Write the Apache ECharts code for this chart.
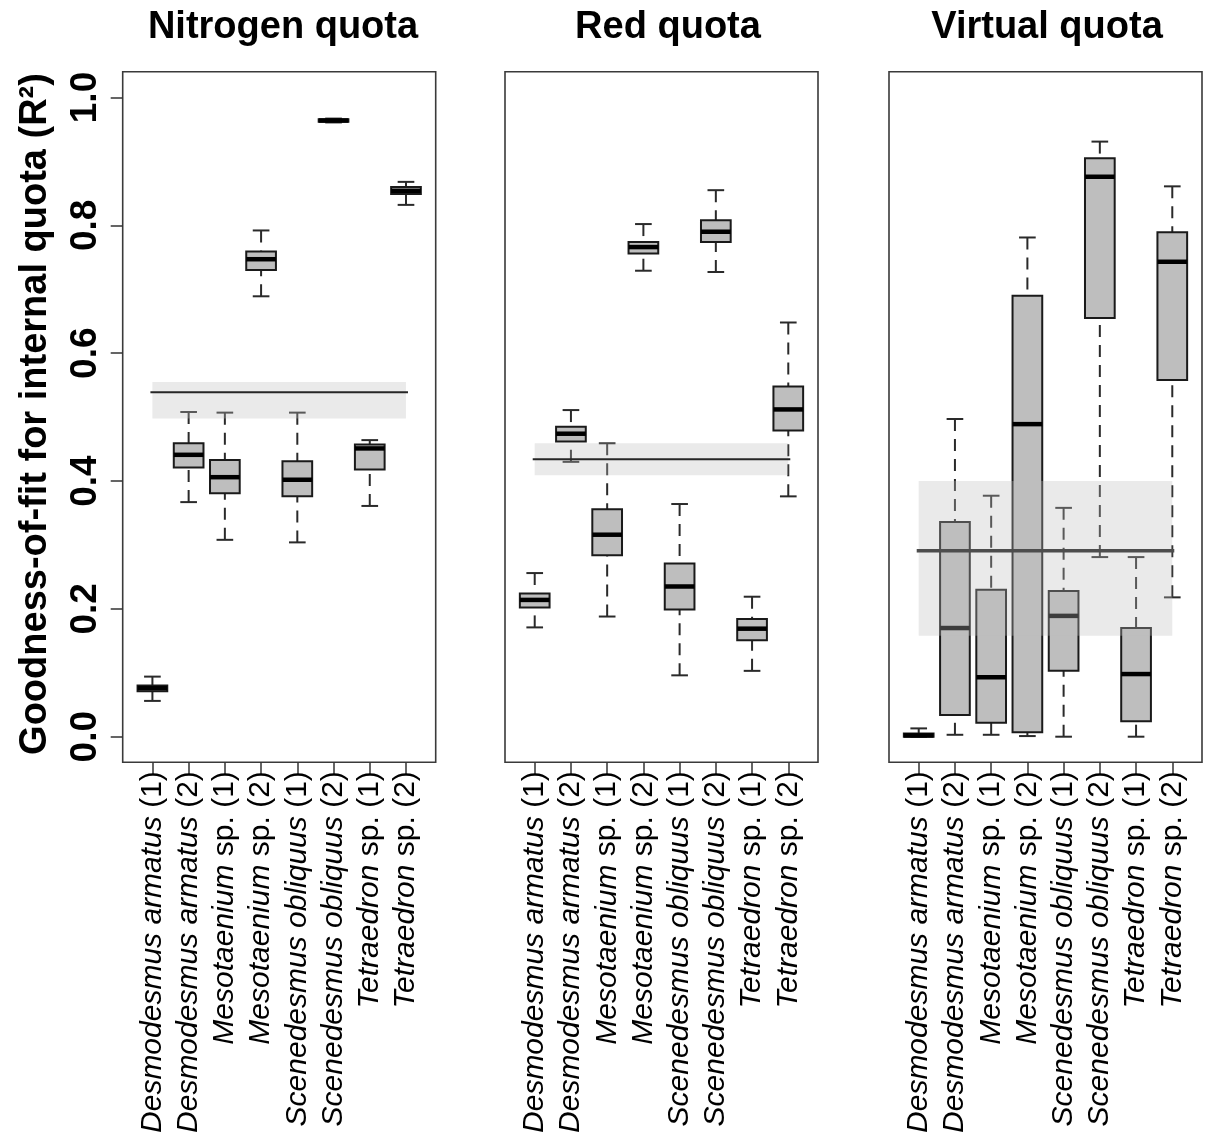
<!DOCTYPE html>
<html>
<head>
<meta charset="utf-8">
<script src="https://cdn.jsdelivr.net/npm/echarts@6/dist/echarts.min.js"></script>
<style>
  html, body { margin: 0; padding: 0; background: #fff; }
  #chart { width: 1207px; height: 1140px; }
</style>
</head>
<body>
<div id="chart"></div>
<script>
// Strains shown on every panel (genus/species in italics, strain number upright)
const categories = [
  'Desmodesmus armatus (1)', 'Desmodesmus armatus (2)',
  'Mesotaenium sp. (1)', 'Mesotaenium sp. (2)',
  'Scenedesmus obliquus (1)', 'Scenedesmus obliquus (2)',
  'Tetraedron sp. (1)', 'Tetraedron sp. (2)'
];

const panelTitles = ['Nitrogen quota', 'Red quota', 'Virtual quota'];
const yTicks = [0, 0.2, 0.4, 0.6, 0.8, 1.0];

// Box statistics per strain: [lower whisker, Q1, median, Q3, upper whisker]
const nitrogenStats = [
  [0.056, 0.071, 0.076, 0.080, 0.094],
  [0.367, 0.421, 0.441, 0.459, 0.508],
  [0.308, 0.381, 0.406, 0.433, 0.507],
  [0.689, 0.730, 0.747, 0.759, 0.792],
  [0.304, 0.376, 0.402, 0.431, 0.507],
  [0.961, 0.962, 0.964, 0.966, 0.967],
  [0.361, 0.418, 0.451, 0.457, 0.464],
  [0.832, 0.849, 0.854, 0.860, 0.868]
];
const redStats = [
  [0.171, 0.202, 0.214, 0.224, 0.256],
  [0.430, 0.462, 0.474, 0.485, 0.511],
  [0.188, 0.284, 0.316, 0.356, 0.459],
  [0.729, 0.756, 0.766, 0.774, 0.802],
  [0.096, 0.199, 0.235, 0.271, 0.364],
  [0.727, 0.774, 0.790, 0.808, 0.855],
  [0.103, 0.151, 0.169, 0.184, 0.219],
  [0.376, 0.479, 0.512, 0.548, 0.648]
];
const virtualStats = [
  [0.000, 0.000, 0.002, 0.005, 0.013],
  [0.003, 0.034, 0.170, 0.336, 0.497],
  [0.003, 0.022, 0.093, 0.230, 0.377],
  [0.001, 0.007, 0.489, 0.690, 0.781],
  [0.000, 0.103, 0.189, 0.228, 0.358],
  [0.281, 0.655, 0.876, 0.905, 0.931],
  [0.000, 0.024, 0.098, 0.170, 0.281],
  [0.218, 0.558, 0.743, 0.789, 0.861]
];

// Overall mean R² per quota and its shaded interval [lower, mean, upper]
const nitrogenMean = [0.498, 0.539, 0.555];
const redMean = [0.409, 0.434, 0.459];
const virtualMean = [0.158, 0.291, 0.400];

const panelStats = [nitrogenStats, redStats, virtualStats];
const panelMeans = [nitrogenMean, redMean, virtualMean];

const FONT = '"Liberation Sans", Arial, Helvetica, sans-serif';

// Layout of the three framed panels (px)
const frameLefts = [122.7, 505, 889];
const frameWidth = 313;
const frameTop = 71.7;
const frameBottom = 762.2;
const dataTop = 97.5;      // y = 1.0
const dataBottom = 736.7;  // y = 0.0
const pad = 11.6;          // horizontal gap between frame and first/last half band
const frameColor = '#3a3a3a';

const meanLineStyle = [
  { color: '#262626', width: 2 },
  { color: '#262626', width: 2 },
  { color: '#4d4d4d', width: 3.5 }
];

function labelFormatter(v) {
  const m = v.match(/^(.*?)( sp\.)? (\(\d\))$/);
  return '{i|' + m[1] + '}' + (m[2] || '') + ' ' + m[3];
}

function renderBox(params, api) {
  const x = api.value(0);
  const low = api.value(1), q1 = api.value(2), med = api.value(3),
        q3 = api.value(4), high = api.value(5);
  const band = api.size([1, 0])[0];
  const boxW = band * 0.82, capW = band * 0.46;
  const cx = api.coord([x, med])[0];
  const yLow = api.coord([x, low])[1];
  const yQ1 = api.coord([x, q1])[1];
  const yMed = api.coord([x, med])[1];
  const yQ3 = api.coord([x, q3])[1];
  const yHigh = api.coord([x, high])[1];
  const whisker = { stroke: '#2a2a2a', lineWidth: 2, lineDash: [12, 8] };
  const cap = { stroke: '#2a2a2a', lineWidth: 2 };
  return {
    type: 'group',
    children: [
      { type: 'line', shape: { x1: cx, y1: yHigh, x2: cx, y2: yQ3 }, style: whisker },
      { type: 'line', shape: { x1: cx, y1: yLow, x2: cx, y2: yQ1 }, style: whisker },
      { type: 'line', shape: { x1: cx - capW / 2, y1: yHigh, x2: cx + capW / 2, y2: yHigh }, style: cap },
      { type: 'line', shape: { x1: cx - capW / 2, y1: yLow, x2: cx + capW / 2, y2: yLow }, style: cap },
      { type: 'rect', shape: { x: cx - boxW / 2, y: yQ3, width: boxW, height: Math.max(yQ1 - yQ3, 0.5) },
        style: { fill: '#bebebe', stroke: '#1a1a1a', lineWidth: 2 } },
      { type: 'line', shape: { x1: cx - boxW / 2, y1: yMed, x2: cx + boxW / 2, y2: yMed },
        style: { stroke: '#000', lineWidth: 4.5 } }
    ]
  };
}

function makeMeanRenderer(panel) {
  return function (params, api) {
    const lo = api.value(1), mean = api.value(2), hi = api.value(3);
    const last = categories.length - 1;
    const pTL = api.coord([0, hi]);
    const pBR = api.coord([last, lo]);
    const yMean = api.coord([0, mean])[1];
    return {
      type: 'group',
      children: [
        { type: 'rect', shape: { x: pTL[0], y: pTL[1], width: pBR[0] - pTL[0], height: pBR[1] - pTL[1] },
          style: { fill: 'rgba(190,190,190,0.32)' } },
        { type: 'line', shape: { x1: pTL[0] - 2, y1: yMean, x2: pBR[0] + 2, y2: yMean },
          style: { stroke: meanLineStyle[panel].color, lineWidth: meanLineStyle[panel].width } }
      ]
    };
  };
}

const grid = [], xAxis = [], yAxis = [], series = [];

for (let p = 0; p < 3; p++) {
  // frame grid
  grid.push({
    left: frameLefts[p], top: frameTop, width: frameWidth, height: frameBottom - frameTop,
    show: true, borderColor: frameColor, borderWidth: 1.6, backgroundColor: 'transparent',
    outerBoundsMode: 'none', containLabel: false
  });
  xAxis.push({ gridIndex: 2 * p, type: 'value', show: false, min: 0, max: 1 });
  yAxis.push({ gridIndex: 2 * p, type: 'value', show: false, min: 0, max: 1 });

  // data grid
  grid.push({
    left: frameLefts[p] + pad, top: dataTop, width: frameWidth - 2 * pad, height: dataBottom - dataTop,
    show: false, outerBoundsMode: 'none', containLabel: false
  });
  xAxis.push({
    gridIndex: 2 * p + 1, type: 'category', data: categories,
    position: 'bottom',
    offset: frameBottom - dataBottom,
    axisLine: { show: false, onZero: false },
    axisTick: { show: true, inside: false, alignWithLabel: true, length: 12, lineStyle: { color: '#333', width: 1.5 } },
    splitLine: { show: false },
    axisLabel: {
      interval: 0, rotate: 90, margin: 9, color: '#000',
      fontFamily: FONT, fontSize: 30,
      formatter: labelFormatter,
      rich: { i: { fontStyle: 'italic', fontFamily: FONT, fontSize: 30, color: '#000' } }
    }
  });
  yAxis.push({
    gridIndex: 2 * p + 1, type: 'value', min: 0, max: 1, interval: 0.2,
    show: p === 0,
    offset: pad,
    axisLine: { show: false, onZero: false },
    splitLine: { show: false },
    axisTick: { show: true, length: 12, lineStyle: { color: '#333', width: 1.5 } },
    axisLabel: {
      rotate: 90, margin: 18, color: '#000', fontFamily: FONT, fontSize: 37, fontWeight: 'bold',
      formatter: v => yTicks.some(t => Math.abs(t - v) < 1e-9) ? v.toFixed(1) : ''
    }
  });

  series.push({
    type: 'custom', xAxisIndex: 2 * p + 1, yAxisIndex: 2 * p + 1, z: 2,
    renderItem: renderBox,
    encode: { x: 0, y: [1, 2, 3, 4, 5] },
    data: panelStats[p].map((s, i) => [i].concat(s)),
    silent: true
  });
  series.push({
    type: 'custom', xAxisIndex: 2 * p + 1, yAxisIndex: 2 * p + 1, z: 3,
    renderItem: makeMeanRenderer(p),
    encode: { x: 0, y: [1, 2, 3] },
    data: [[0].concat(panelMeans[p])],
    silent: true
  });
}

const titleCenters = [283, 668, 1047];
const graphic = panelTitles.map((t, i) => ({
  type: 'text', x: titleCenters[i], y: 28,
  style: { text: t, fontFamily: FONT, fontSize: 38, fontWeight: 'bold', fill: '#000',
           textAlign: 'center', textVerticalAlign: 'middle' }
}));
graphic.push({
  type: 'text', x: 36, y: 414, rotation: Math.PI / 2,
  style: { text: 'Goodness-of-fit for internal quota (R²)', fontFamily: FONT, fontSize: 38,
           fontWeight: 'bold', fill: '#000', textAlign: 'center', textVerticalAlign: 'middle' }
});

const chart = echarts.init(document.getElementById('chart'), null, { renderer: 'canvas' });
chart.setOption({
  backgroundColor: '#fff',
  animation: false,
  grid, xAxis, yAxis, series, graphic
});
</script>
</body>
</html>
